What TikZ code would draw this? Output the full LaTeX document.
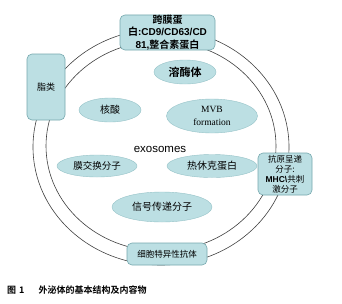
\documentclass[tikz,border=0pt]{standalone}
\usepackage{fontspec}
\setmainfont{Liberation Serif}
\setsansfont{Liberation Sans}
\newfontfamily\cjk[BoldFont={Noto Sans CJK SC Bold}]{Noto Sans CJK SC}
\usetikzlibrary{shapes.geometric}
\definecolor{tealfill}{RGB}{188,223,227}
\definecolor{tealline}{RGB}{118,168,174}
\definecolor{ovalline}{RGB}{150,195,200}
\begin{document}
\begin{tikzpicture}[x=1pt,y=-1pt,
  box/.style={draw=tealline, fill=tealfill, rounded corners=5pt, line width=0.6pt,
    inner sep=0pt, align=center, font=\cjk\fontsize{9}{11}\selectfont},
  oval/.style={ellipse, draw=ovalline, fill=tealfill, line width=0.4pt, inner sep=0pt,
    align=center, font=\cjk\fontsize{10}{12}\selectfont},
  ring/.style={draw=black!75, line width=0.6pt}]
\useasboundingbox (0,0) rectangle (342,303);
\fill[white] (0,0) rectangle (342,303);
% membrane rings
\draw[ring] (161,147) ellipse [x radius=128, y radius=118];
\draw[ring] (161,146) ellipse [x radius=115, y radius=105];
% boxes on the membrane
\node[box, minimum width=95pt, minimum height=35pt,
  font=\sffamily\bfseries\fontsize{10}{12.5}\selectfont] (tm) at (167.5,32.5)
  {{\cjk\bfseries 跨膜蛋}\\{\cjk\bfseries 白}:CD9/CD63/CD\\81,{\cjk\bfseries 整合素蛋白}};
\node[box, minimum width=38pt, minimum height=66pt] (lip) at (46,87) {脂类};
\node[box, minimum width=54pt, minimum height=42pt,
  font=\cjk\fontsize{8.5}{10}\selectfont] (mhc) at (285,174)
  {抗原呈递\\分子:\\{\sffamily\bfseries MHC\textbackslash}共刺\\激分子};
\node[box, minimum width=80pt, minimum height=22pt,
  font=\cjk\fontsize{8.5}{10}\selectfont] (ab) at (167,254) {细胞特异性抗体};
% contents
\node[oval, minimum width=62pt, minimum height=24pt, font=\cjk\bfseries\fontsize{11}{12}\selectfont] (lyso) at (185,72) {溶酶体};
\node[oval, minimum width=62pt, minimum height=24pt] (na) at (110,110) {核酸};
\node[oval, minimum width=91pt, minimum height=34pt,
  font=\rmfamily\fontsize{9.5}{13}\selectfont] (mvb) at (212,116) {MVB\\formation};
\node[font=\sffamily\fontsize{11.5}{12}\selectfont, inner sep=0pt] (exo) at (160,149) {exosomes};
\node[oval, minimum width=80pt, minimum height=22pt, font=\cjk\fontsize{9.5}{11}\selectfont] (mem) at (97,166) {膜交换分子};
\node[oval, minimum width=90pt, minimum height=23pt] (hsp) at (212,166) {热休克蛋白};
\node[oval, minimum width=100pt, minimum height=30pt] (sig) at (162,207) {信号传递分子};
% caption
\node[anchor=west, inner sep=0pt, font=\cjk\bfseries\fontsize{9}{10}\selectfont] (cap) at (7,290)
  {图\hspace{3pt}1\hspace{14pt}外泌体的基本结构及内容物};
\end{tikzpicture}
\end{document}
